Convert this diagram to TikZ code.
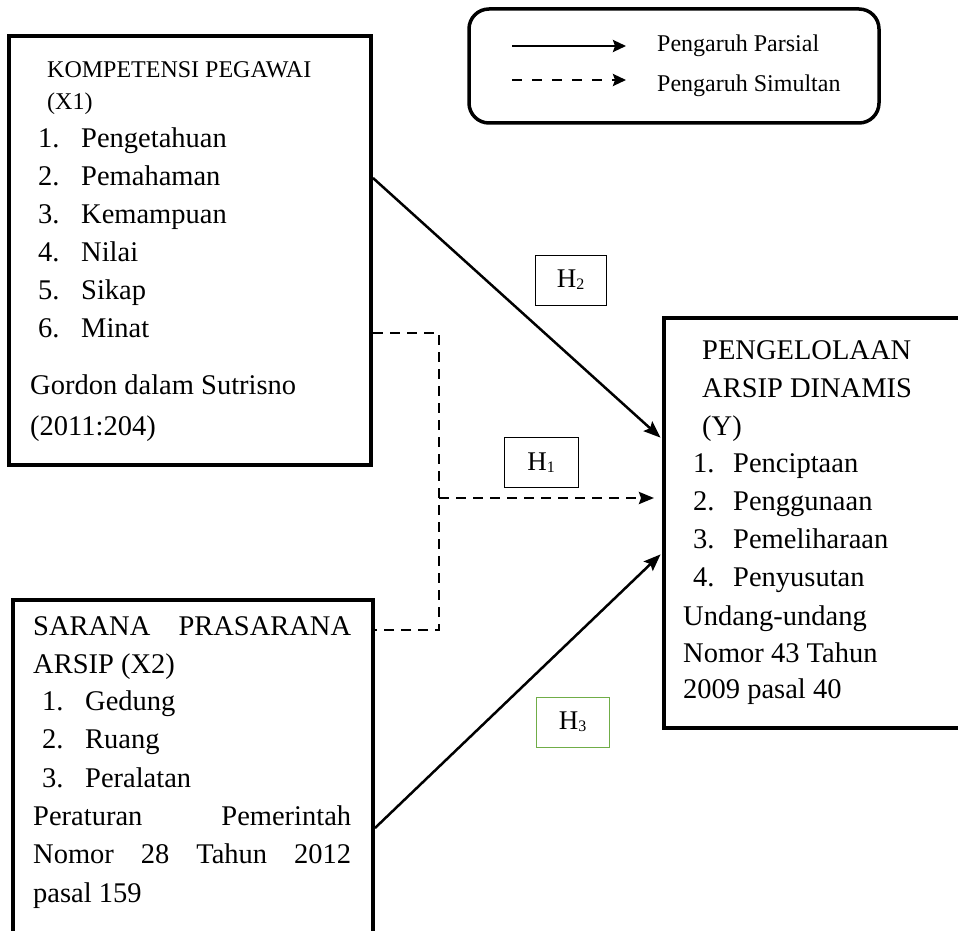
\documentclass[tikz,border=0pt]{standalone}
\usepackage{fontspec}
\setmainfont{Liberation Serif}
\usetikzlibrary{arrows.meta,positioning,calc}
\definecolor{HGreen}{RGB}{112,173,71}
\newcommand{\itemno}[2]{\makebox[#1pt][l]{#2.}}
\newcommand{\hsub}[1]{\raisebox{-2pt}{\fontsize{16}{16}\selectfont #1}}
\tikzset{
  panel/.style={draw,line width=4pt,inner sep=0pt},
  legendbox/.style={draw,line width=3.5pt,rounded corners=20pt,inner sep=0pt},
  hbox/.style={draw,line width=1pt,inner sep=0pt,minimum height=50pt,font=\fontsize{27}{30}\selectfont},
  txt/.style={anchor=base west,inner sep=0pt,font=\fontsize{28.5}{38}\selectfont},
  smalltxt/.style={anchor=base west,inner sep=0pt,font=\fontsize{24}{32}\selectfont},
  partial/.style={-{Stealth[length=17pt,width=13pt,inset=3pt]},line width=2.5pt},
  simultan/.style={line width=2.5pt,dash pattern=on 10pt off 7pt},
  keyline/.style={line width=2.5pt,-{Stealth[length=13pt,width=12pt,inset=2pt]}}
}

\begin{document}
\begin{tikzpicture}[x=1pt,y=-1pt]
\useasboundingbox (0,0) rectangle (958,931);
\clip (0,0) rectangle (958,931);
\fill[white] (0,0) rectangle (958,931);

% the three variable boxes
\node[panel,minimum width=362pt,minimum height=429pt] (x1) at (190,250.5) {};
\node[panel,minimum width=360pt,minimum height=350pt] (x2) at (193,775) {};
\node[panel,minimum width=311pt,minimum height=409.5pt] (y) at (819.5,522.75) {};

% legend
\node[legendbox,minimum width=410pt,minimum height=114pt] (lgd) at (674,66) {};
\coordinate (ps) at (512,46);
\coordinate (pe) at (626,46);
\coordinate (ss) at (512,80);
\coordinate (se) at (626,80);
\draw[keyline](ps)--(pe);
\draw[keyline,dash pattern=on 10pt off 10pt](ss)--(se);
\node[smalltxt] (lgdp) at (657,52) {Pengaruh Parsial};
\node[smalltxt] (lgds) at (657,92) {Pengaruh Simultan};

% X1
\node[smalltxt] (x1head) at (47,78) {KOMPETENSI PEGAWAI};
\node[smalltxt] (x1var) at (47,110) {(X1)};
\foreach \t [count=\i] in {Pengetahuan,Pemahaman,Kemampuan,Nilai,Sikap,Minat}
  \node[txt] (x1item\i) at (38,{147+38*(\i-1)}) {\itemno{43}{\i}\t};
\node[txt] (x1src) at (30,394) {Gordon dalam Sutrisno};
\node[txt] (x1year) at (30,435) {(2011:204)};

% X2
\node[txt] (x2head) at (33,635) {\makebox[318pt][s]{SARANA PRASARANA}};
\node[txt] (x2var) at (33,673) {ARSIP (X2)};
\foreach \t [count=\i] in {Gedung,Ruang,Peralatan}
  \node[txt] (x2item\i) at (42,{710+38.5*(\i-1)}) {\itemno{43}{\i}\t};
\node[txt] (x2src) at (33,825) {\makebox[318pt][s]{Peraturan Pemerintah}};
\node[txt] (x2no) at (33,863) {\makebox[318pt][s]{Nomor 28 Tahun 2012}};
\node[txt] (x2pas) at (33,902) {pasal 159};

% Y
\node[txt] (yhead) at (702,359) {PENGELOLAAN};
\node[txt] (yhead2) at (702,397) {ARSIP DINAMIS};
\node[txt] (yvar) at (702,435) {(Y)};
\foreach \t [count=\i] in {Penciptaan,Penggunaan,Pemeliharaan,Penyusutan}
  \node[txt] (yitem\i) at (693,{472+38*(\i-1)}) {\itemno{40}{\i}\t};
\node[txt] (ysrc) at (683,625) {Undang-undang};
\node[txt] (yno) at (683,662) {Nomor 43 Tahun};
\node[txt] (ypas) at (683,698) {2009 pasal 40};

% hypothesis labels
\node[hbox,minimum width=71pt] (h2) at (570.5,280) {H\hsub{2}};
\node[hbox,minimum width=74pt] (h1) at (541,462.5) {H\hsub{1}};
\node[hbox,minimum width=73pt,draw=HGreen] (h3) at (572.5,722) {H\hsub{3}};

% connectors
\coordinate (j2) at (439,498);
\coordinate (j3) at (439,630);
\draw[partial,shorten >=2pt]([yshift=72.5pt]x1.east)--([yshift=83.75pt]y.west);
\draw[partial,shorten >=2pt]([yshift=-53pt]x2.east)--([yshift=-30.25pt]y.west);
\draw[simultan]([yshift=-82.5pt]x1.east)-|(j3)--([yshift=145pt]x2.east);
\draw[simultan,-{Stealth[length=15pt,width=12pt,inset=2pt]},shorten >=8pt](j2)--([yshift=24.75pt]y.west);
\end{tikzpicture}
\end{document}
